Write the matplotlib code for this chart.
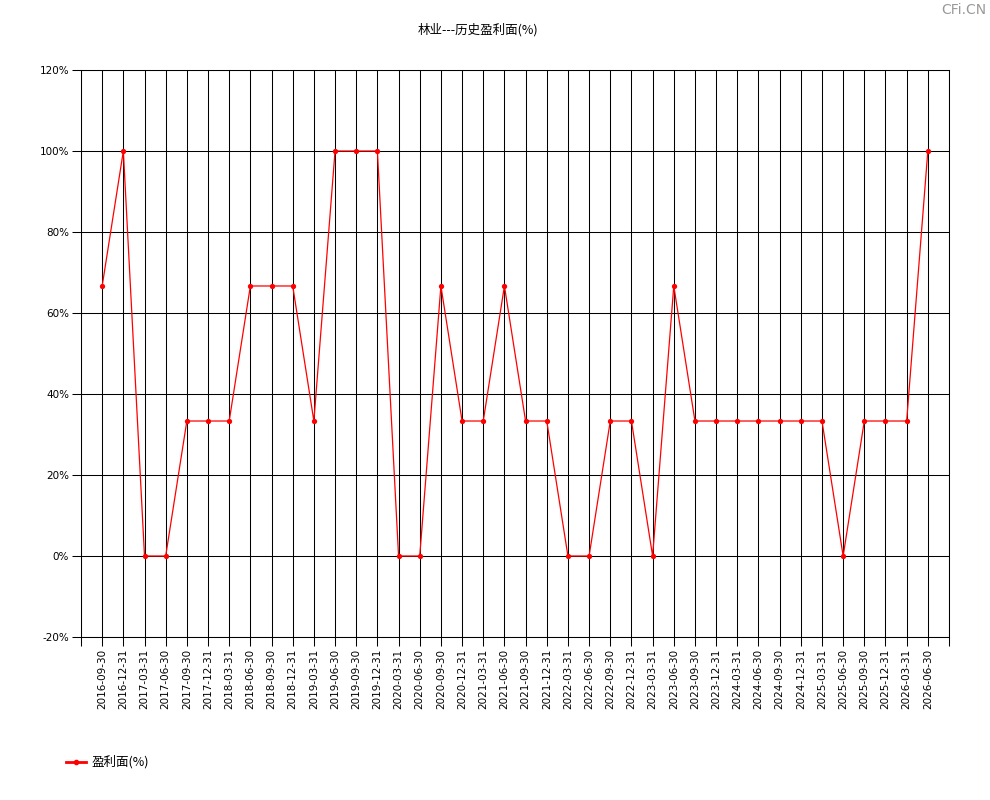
import matplotlib
matplotlib.use("Agg")
import matplotlib.pyplot as plt
from matplotlib.lines import Line2D

plt.rcParams['font.family'] = ['Noto Sans CJK SC', 'DejaVu Sans']

dates = ["2016-09-30", "2016-12-31", "2017-03-31", "2017-06-30", "2017-09-30", "2017-12-31",
         "2018-03-31", "2018-06-30", "2018-09-30", "2018-12-31", "2019-03-31", "2019-06-30",
         "2019-09-30", "2019-12-31", "2020-03-31", "2020-06-30", "2020-09-30", "2020-12-31",
         "2021-03-31", "2021-06-30", "2021-09-30", "2021-12-31", "2022-03-31", "2022-06-30",
         "2022-09-30", "2022-12-31", "2023-03-31", "2023-06-30", "2023-09-30", "2023-12-31",
         "2024-03-31", "2024-06-30", "2024-09-30", "2024-12-31", "2025-03-31", "2025-06-30",
         "2025-09-30", "2025-12-31", "2026-03-31", "2026-06-30"]
values = [66.67, 100, 0, 0, 33.33, 33.33,
          33.33, 66.67, 66.67, 66.67, 33.33, 100,
          100, 100, 0, 0, 66.67, 33.33,
          33.33, 66.67, 33.33, 33.33, 0, 0,
          33.33, 33.33, 0, 66.67, 33.33, 33.33,
          33.33, 33.33, 33.33, 33.33, 33.33, 0,
          33.33, 33.33, 33.33, 100]
yticks = [-20, 0, 20, 40, 60, 80, 100, 120]
title = "林业---历史盈利面(%)"
series_name = "盈利面(%)"

fig = plt.figure(figsize=(9.9, 8), dpi=100)
ax = fig.add_axes([81/990, 163/800, 868/990, 567/800])

n = len(dates)
xs = list(range(n))
ax.plot(xs, values, color='#ff0000', linewidth=0.9, marker='o', markersize=3.8,
        markeredgewidth=0, zorder=3)

ax.set_xlim(-1, n)
ax.set_ylim(-20, 120)
ax.set_xticks(list(range(-1, n + 1)))
ax.set_xticklabels([''] + dates + [''], rotation=90, fontsize=7.5, family='DejaVu Sans')
ax.set_yticks(yticks)
ax.set_yticklabels([f"{v}%" for v in yticks], fontsize=7.5, family='DejaVu Sans')
ax.tick_params(axis='both', direction='out', length=6.5, width=0.75, color='black', pad=2)
ax.grid(True, color='black', linewidth=0.75)
for s in ax.spines.values():
    s.set_color('black')
    s.set_linewidth(0.75)

fig.text(478/990, 1 - 30/800, title, ha='center', va='center', fontsize=9)
fig.text(986/990, 1 - 10/800, "CFi.CN", ha='right', va='center', fontsize=10,
         color='#999999', family='DejaVu Sans')

# legend
fig.lines.append(Line2D([66/990, 86/990], [1 - 762/800, 1 - 762/800], color='#ff0000',
                        linewidth=2, transform=fig.transFigure))
fig.lines.append(Line2D([76/990], [1 - 762/800], color='#ff0000', marker='o', markersize=3,
                        linewidth=0, transform=fig.transFigure))
fig.text(92/990, 1 - 762/800, series_name, ha='left', va='center', fontsize=9)

fig.savefig("out.png", dpi=100)
